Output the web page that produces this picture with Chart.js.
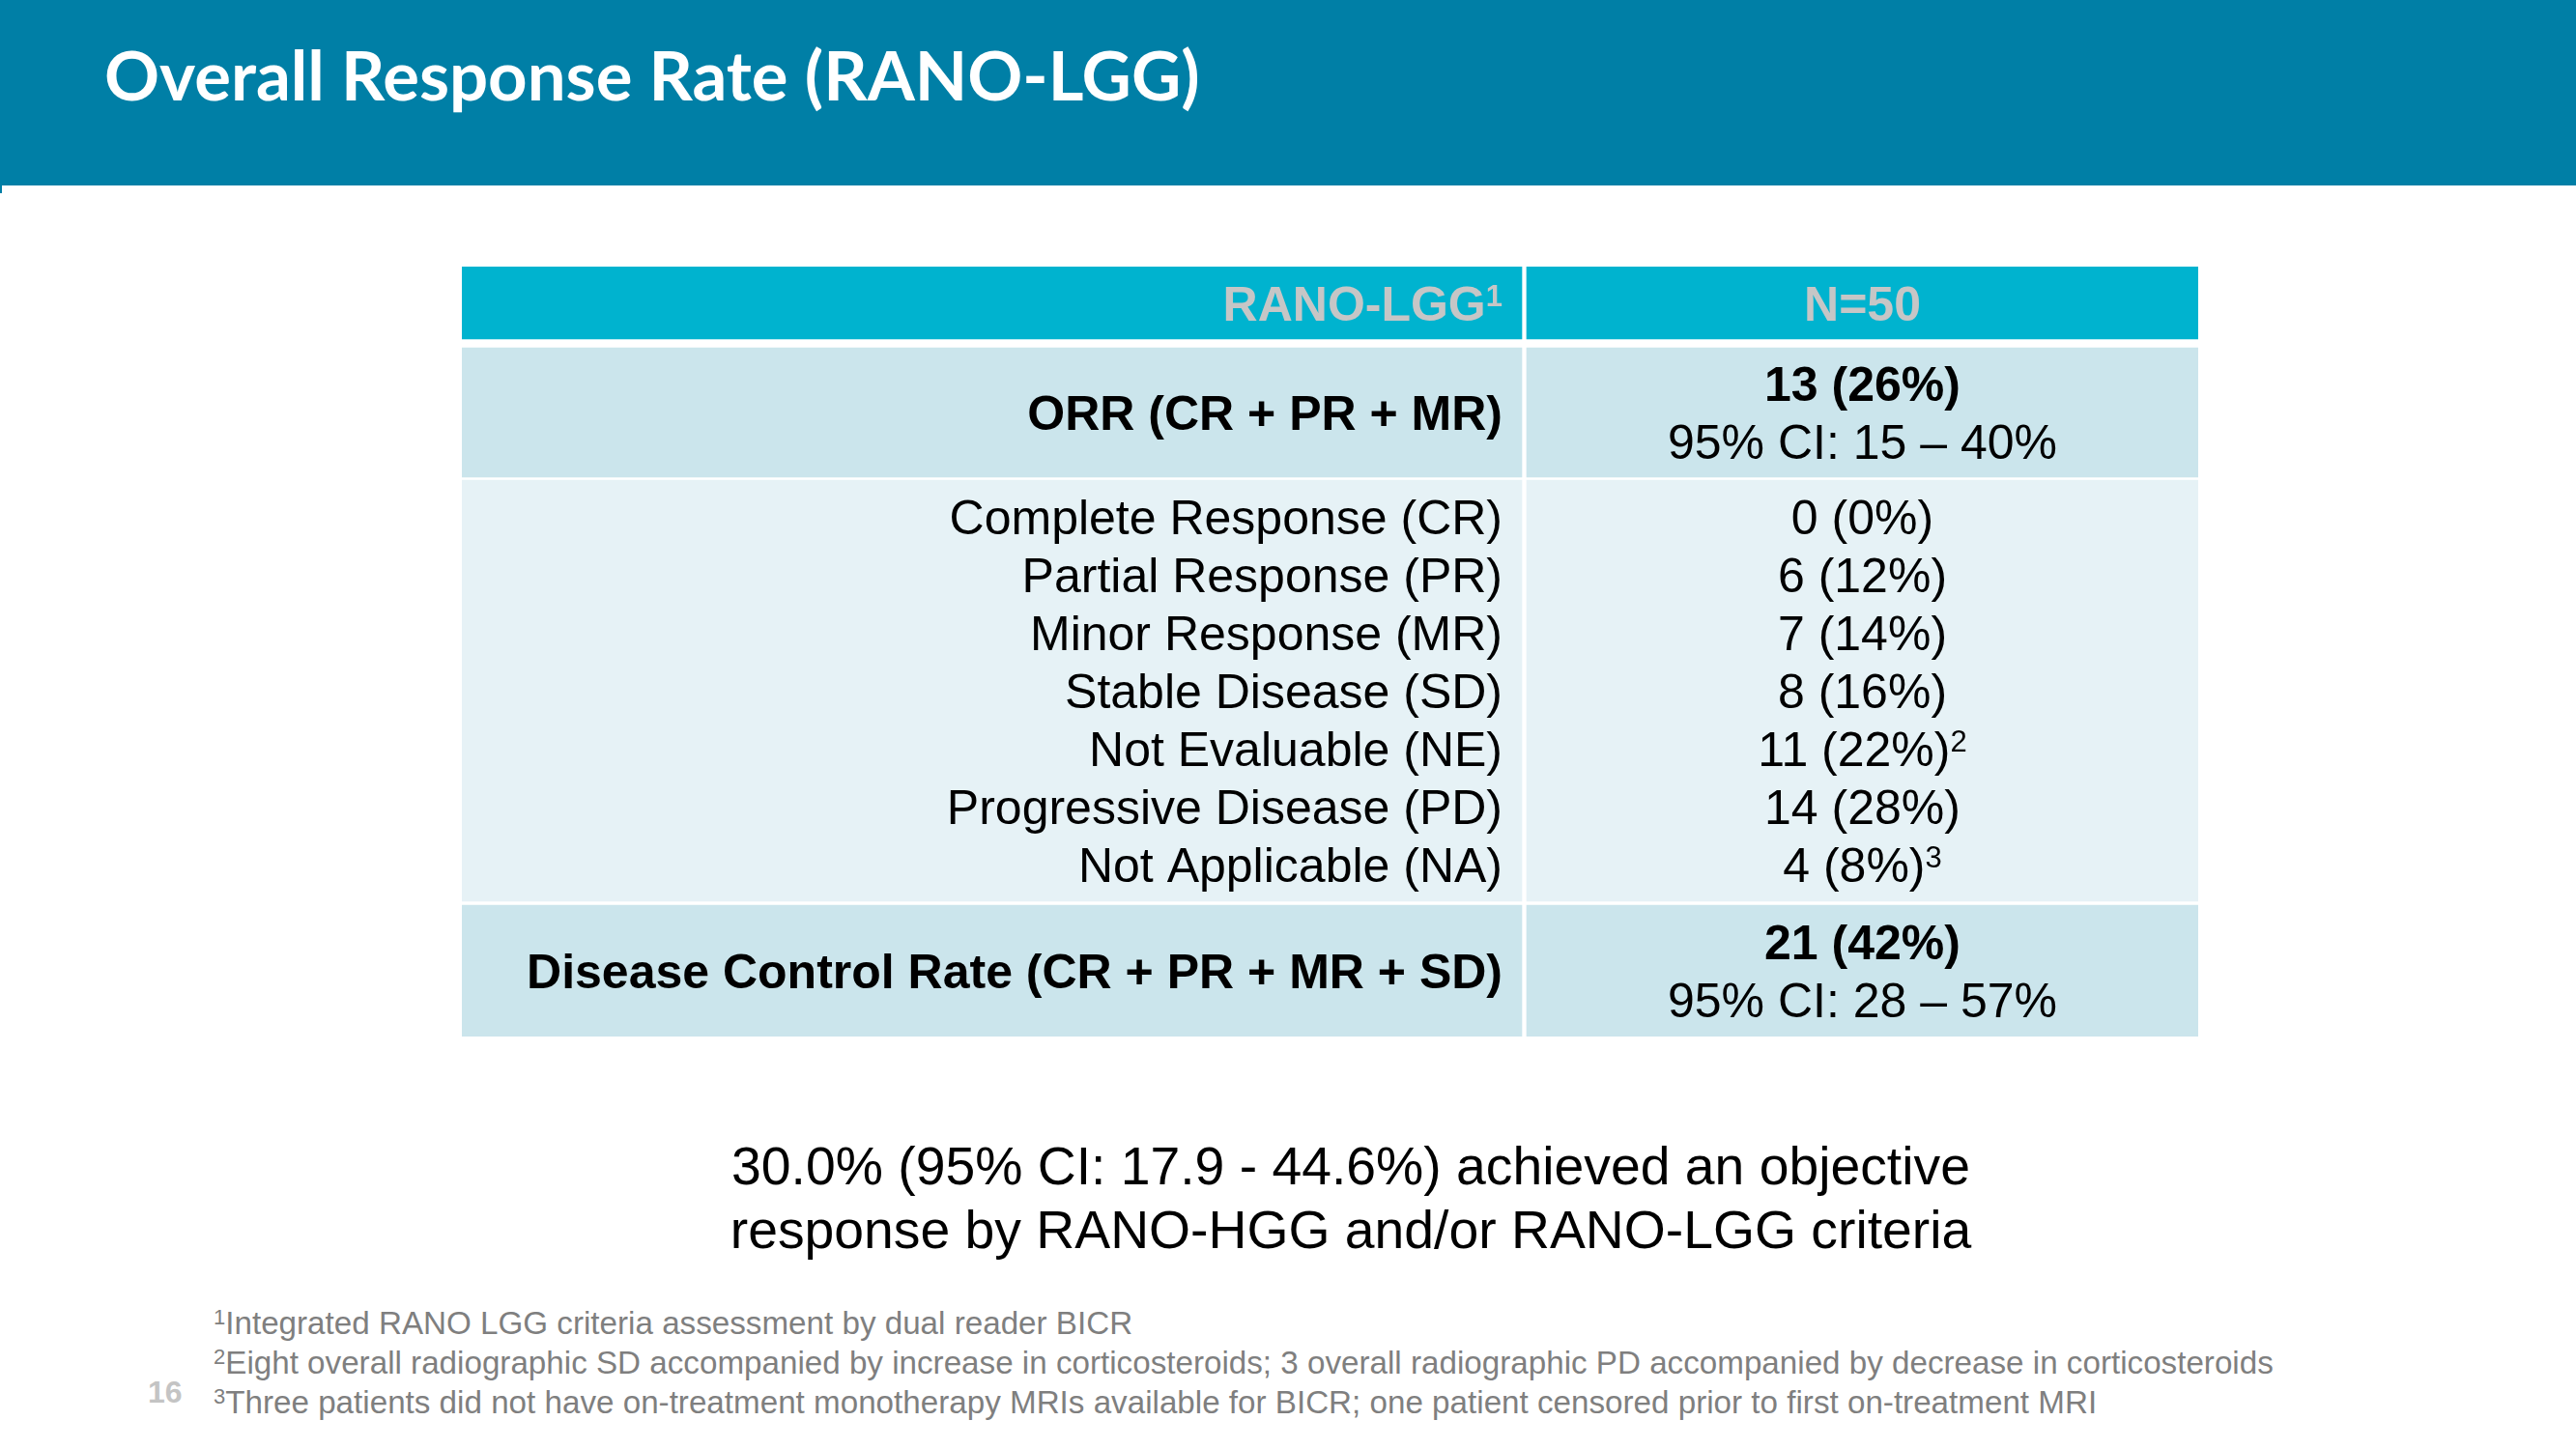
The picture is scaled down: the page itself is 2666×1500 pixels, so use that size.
<!DOCTYPE html>
<html>
<head>
<meta charset="utf-8">
<script src="https://cdn.jsdelivr.net/npm/chart.js@4.4.1/dist/chart.umd.min.js"></script>
<style>
  body { margin: 0; width: 2666px; height: 1500px; background: #fff; position: relative; overflow: hidden; font-family: "Liberation Sans", Arial, sans-serif; }
  .band { position: absolute; left: 0; top: 0; width: 2666px; height: 192px; background: #007fa6; }
  .tick { position: absolute; left: 0; top: 192px; width: 2px; height: 8px; background: #007fa6; }
  .title { position: absolute; left: 108px; top: 42px; font: 700 70.7px/70px Lato, sans-serif; color: #fff; white-space: nowrap; }
  #tableWrap { position: absolute; left: 478px; top: 276px; width: 1797px; height: 797px; }
  .summary { position: absolute; left: 698px; top: 1174px; width: 1400px; text-align: center; font-size: 55.3px; line-height: 66px; color: #000; }
  .notes { position: absolute; left: 221px; top: 1349px; font-size: 33.2px; line-height: 41px; color: #7f7f7f; white-space: nowrap; }
  .notes sup { font-size: 22px; line-height: 0; position: relative; top: -10px; vertical-align: baseline; }
  .page { position: absolute; left: 153px; top: 1425px; font-size: 32px; line-height: 32px; font-weight: bold; color: #c4c4c4; }
</style>
</head>
<body>
<div class="band"></div>
<div class="tick"></div>
<div class="title">Overall Response Rate (RANO-LGG)</div>
<div id="tableWrap"><canvas id="tbl" width="1797" height="797"></canvas></div>
<div class="summary">30.0% (95% CI: 17.9 - 44.6%) achieved an objective<br>response by RANO-HGG and/or RANO-LGG criteria</div>
<div class="notes">
  <div><sup>1</sup>Integrated RANO LGG criteria assessment by dual reader BICR</div>
  <div><sup>2</sup>Eight overall radiographic SD accompanied by increase in corticosteroids; 3 overall radiographic PD accompanied by decrease in corticosteroids</div>
  <div><sup>3</sup>Three patients did not have on-treatment monotherapy MRIs available for BICR; one patient censored prior to first on-treatment MRI</div>
</div>
<div class="page">16</div>
<script>
// table content
const headerLabel = 'RANO-LGG';
const headerNote = '1';
const totalN = 50;

const summaryLabels = ['ORR (CR + PR + MR)', 'Disease Control Rate (CR + PR + MR + SD)'];
const summaryCounts = [13, 21];
const summaryPercents = [26, 42];
const summaryCiLow = [15, 28];
const summaryCiHigh = [40, 57];

const detailLabels = ['Complete Response (CR)', 'Partial Response (PR)', 'Minor Response (MR)',
  'Stable Disease (SD)', 'Not Evaluable (NE)', 'Progressive Disease (PD)', 'Not Applicable (NA)'];
const detailCounts = [0, 6, 7, 8, 11, 14, 4];
const detailPercents = [0, 12, 14, 16, 22, 28, 8];
const detailNotes = ['', '', '', '', '2', '', '3'];

// layout of the grid (table pixels)
const tableW = 1797, tableH = 797;
const columns = [{ from: 0, to: 1097 }, { from: 1102, to: 1797 }];
const rows = [
  { from: 0, to: 75, fill: '#00b3cf' },     // header
  { from: 84, to: 218, fill: '#cbe5ec' },   // ORR
  { from: 221, to: 657, fill: '#e6f2f6' },  // details
  { from: 661, to: 797, fill: '#cbe5ec' }   // DCR
];
const lineStep = 60;
const capHalf = 18;

const datasets = columns.map(col => ({
  data: rows.map(r => ({ x: (col.from + col.to) / 2, y: [r.from, r.to] })),
  backgroundColor: rows.map(r => r.fill),
  barThickness: col.to - col.from,
  grouped: false,
  borderWidth: 0
}));

function drawText(ctx, str, note, xPos, base, align, weight, color) {
  ctx.fillStyle = color;
  ctx.textBaseline = 'alphabetic';
  ctx.textAlign = 'left';
  ctx.font = weight + ' 50px "Liberation Sans", Arial, sans-serif';
  const w = ctx.measureText(str).width;
  ctx.font = weight + ' 31px "Liberation Sans", Arial, sans-serif';
  const n = note ? ctx.measureText(note).width : 0;
  let start = align === 'right' ? xPos - n - w : xPos - (w + n) / 2;
  ctx.font = weight + ' 50px "Liberation Sans", Arial, sans-serif';
  ctx.fillText(str, start, base);
  if (note) {
    ctx.font = weight + ' 31px "Liberation Sans", Arial, sans-serif';
    ctx.fillText(note, start + w, base - 15);
  }
}

const tableText = {
  id: 'tableText',
  afterDatasetsDraw(chart) {
    const { ctx, scales: { x, y } } = chart;
    const leftEdge = x.getPixelForValue(columns[0].to) - 20;
    const rightMid = x.getPixelForValue((columns[1].from + columns[1].to) / 2);
    const mid = i => y.getPixelForValue((rows[i].from + rows[i].to) / 2);
    ctx.save();
    // header
    drawText(ctx, headerLabel, headerNote, leftEdge, mid(0) + capHalf, 'right', 'bold', '#c6c6c6');
    drawText(ctx, 'N=' + totalN, '', rightMid, mid(0) + capHalf, 'center', 'bold', '#c6c6c6');
    // ORR and DCR
    [1, 3].forEach((r, i) => {
      drawText(ctx, summaryLabels[i], '', leftEdge, mid(r) + capHalf, 'right', 'bold', '#000');
      drawText(ctx, summaryCounts[i] + ' (' + summaryPercents[i] + '%)', '', rightMid,
        mid(r) - lineStep / 2 + capHalf, 'center', 'bold', '#000');
      drawText(ctx, '95% CI: ' + summaryCiLow[i] + ' \u2013 ' + summaryCiHigh[i] + '%', '', rightMid,
        mid(r) + lineStep / 2 + capHalf, 'center', 'normal', '#000');
    });
    // detail lines
    const centre = (detailLabels.length - 1) / 2;
    detailLabels.forEach((lab, k) => {
      const base = mid(2) + capHalf + (k - centre) * lineStep;
      drawText(ctx, lab, '', leftEdge, base, 'right', 'normal', '#000');
      drawText(ctx, detailCounts[k] + ' (' + detailPercents[k] + '%)', detailNotes[k], rightMid, base, 'center', 'normal', '#000');
    });
    ctx.restore();
  }
};

new Chart(document.getElementById('tbl'), {
  type: 'bar',
  data: { datasets: datasets },
  options: {
    responsive: false,
    animation: false,
    layout: { padding: 0 },
    scales: {
      x: { type: 'linear', min: 0, max: tableW, display: false, offset: false },
      y: { type: 'linear', min: 0, max: tableH, reverse: true, display: false }
    },
    plugins: { legend: { display: false }, tooltip: { enabled: false } }
  },
  plugins: [tableText]
});
</script>
</body>
</html>
